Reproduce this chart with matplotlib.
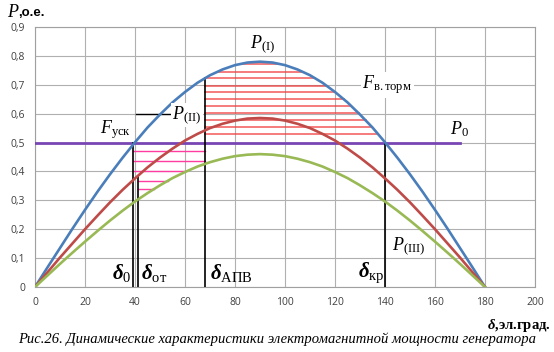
import matplotlib
matplotlib.use('Agg')
import matplotlib.pyplot as plt
import numpy as np

# angle, el. degrees
delta = list(range(0, 181, 5))
# power curves (p.u.)
p_1 = [0, 0.068, 0.135, 0.202, 0.267, 0.330, 0.39, 0.447, 0.501, 0.552,
       0.597, 0.639, 0.675, 0.707, 0.733, 0.753, 0.768, 0.777, 0.78,
       0.777, 0.768, 0.753, 0.733, 0.707, 0.675, 0.639, 0.597, 0.552,
       0.501, 0.447, 0.39, 0.330, 0.267, 0.202, 0.135, 0.068, 0]
p_2 = [0, 0.051, 0.102, 0.151, 0.200, 0.247, 0.293, 0.336, 0.376, 0.414,
       0.448, 0.479, 0.507, 0.530, 0.550, 0.565, 0.576, 0.583, 0.585,
       0.583, 0.576, 0.565, 0.550, 0.530, 0.507, 0.479, 0.448, 0.414,
       0.376, 0.336, 0.293, 0.247, 0.200, 0.151, 0.102, 0.051, 0]
p_3 = [0, 0.040, 0.080, 0.119, 0.157, 0.194, 0.230, 0.264, 0.296, 0.325,
       0.352, 0.377, 0.398, 0.417, 0.432, 0.444, 0.453, 0.458, 0.46,
       0.458, 0.453, 0.444, 0.432, 0.417, 0.398, 0.377, 0.352, 0.325,
       0.296, 0.264, 0.230, 0.194, 0.157, 0.119, 0.080, 0.040, 0]

p0 = 0.5
p0_end = 170
d0, d_ot, d_apv, d_kr = 39, 41, 68, 140

# hatch levels
acc_levels = [0.47, 0.435, 0.40, 0.367, 0.34]
dec_levels = [0.531, 0.553, 0.577, 0.601, 0.626, 0.65, 0.674, 0.697, 0.722, 0.745, 0.772]

x_ticks = np.arange(0, 201, 20)
y_ticks = np.round(np.arange(0, 0.91, 0.1), 1)

plt.rcParams['mathtext.fontset'] = 'custom'
plt.rcParams['mathtext.rm'] = 'Liberation Serif'
plt.rcParams['mathtext.it'] = 'Liberation Serif:italic'
plt.rcParams['mathtext.bf'] = 'Liberation Serif:bold:italic'

fig = plt.figure(figsize=(5.54, 3.52), dpi=100)
ax = fig.add_axes([35 / 554, 1 - 287 / 352, 500 / 554, 260 / 352])

x = np.array(delta, dtype=float)
y1, y2, y3 = np.array(p_1), np.array(p_2), np.array(p_3)
top = int(np.argmax(y1))


def rise(level, y):
    return np.interp(level, y[:top + 1], x[:top + 1])


def fall(level, y):
    return np.interp(level, y[top:][::-1], x[top:][::-1])


# deceleration area (red hatch)
for lv in dec_levels:
    start = max(d_apv, rise(lv, y1))
    ax.plot([start, fall(lv, y1)], [lv, lv], color='#f03c3c', lw=1.1, alpha=0.85, zorder=2)

# acceleration area (pink hatch)
red_at_ot = np.interp(d_ot, x, y2)
for lv in acc_levels:
    start = d0 if lv > red_at_ot else d_ot
    end = min(d_apv, rise(lv, y3))
    ax.plot([start, end], [lv, lv], color='#ff3ca0', lw=1.0, zorder=2)

ax.plot(x, y1, color='#4A7EBB', lw=1.9, zorder=4)
ax.plot(x, y2, color='#BE4B48', lw=1.9, zorder=4)
ax.plot(x, y3, color='#98B954', lw=1.9, zorder=4)
ax.plot([0, p0_end], [p0, p0], color='#7846B4', lw=2, zorder=3)

# delta lines
ax.plot([d0, d0], [0, p0], color='black', lw=1.2, zorder=3)
ax.plot([d_ot, d_ot], [0, red_at_ot], color='black', lw=1.2, zorder=3)
ax.plot([d_apv, d_apv], [0, np.interp(d_apv, x, y1)], color='black', lw=1.2, zorder=3)
ax.plot([d_kr, d_kr], [0, p0], color='black', lw=1.2, zorder=3)
# leader to P(II)
ax.plot([40.5, 54], [0.6, 0.6], color='black', lw=1, zorder=3)

ax.set_xlim(0, 200)
ax.set_ylim(0, 0.9)
ax.set_xticks(x_ticks)
ax.set_yticks(y_ticks)
ax.set_xticklabels([str(v) for v in x_ticks])
ax.set_yticklabels(['0' if v == 0 else f'{v:.1f}'.replace('.', ',') for v in y_ticks])
ax.tick_params(length=0, labelsize=7.5, colors='#404040', pad=7)
for lab in ax.get_xticklabels() + ax.get_yticklabels():
    lab.set_fontfamily('Open Sans')
ax.grid(True, color='#b0b0b0', lw=0.8)
ax.set_axisbelow(True)
for s in ax.spines.values():
    s.set_color('#a0a0a0')
    s.set_linewidth(0.8)

white = dict(facecolor='white', edgecolor='none', pad=1)
lbl = dict(fontsize=13, zorder=5)
ax.text(86, 0.84, r'$P_{\mathrm{(I)}}$', ha='left', va='center', **lbl)
ax.text(55, 0.595, r'$P_{\mathrm{(II)}}$', ha='left', va='center', bbox=white, **lbl)
ax.text(143, 0.14, r'$P_{\mathrm{(III)}}$', ha='left', va='center', **lbl)
ax.text(166, 0.545, r'$P_{\mathrm{0}}$', ha='left', va='center', **lbl)
ax.text(26, 0.545, r'$F_{\mathrm{уск}}$', ha='left', va='center', **lbl)
ax.text(131, 0.70, r'$F_{\mathrm{в.торм}}$', ha='left', va='center', bbox=white, **lbl)

dl = dict(fontsize=15, zorder=5, va='center', ha='left')
ax.text(31, 0.05, r'$\mathbf{\delta}_{\mathrm{0}}$', **dl)
ax.text(42.5, 0.05, r'$\mathbf{\delta}_{\mathrm{от}}$', **dl)
ax.text(70, 0.05, r'$\mathbf{\delta}_{\mathrm{АПВ}}$', **dl)
ax.text(129, 0.05, r'$\mathbf{\delta}_{\mathrm{кр}}$', **dl)

# axis titles
fig.text(7 / 554, 1 - 12 / 352, r'$P$', fontsize=13, va='center', ha='left')
fig.text(18 / 554, 1 - 13 / 352, ',о.е.', fontsize=9.5, fontweight='bold',
         family='Liberation Sans', va='center', ha='left')
fig.text(551 / 554, 1 - 325 / 352, r'$\mathbf{\delta}$,эл.град.', fontsize=10.5,
         fontweight='bold', family='Liberation Serif', va='center', ha='right')
fig.text(277 / 554, 1 - 339 / 352,
         'Рис.26. Динамические характеристики электромагнитной мощности генератора',
         fontsize=10.5, style='italic', family='Liberation Serif', va='center', ha='center')

fig.savefig('out.png', dpi=100)
plt.close(fig)
